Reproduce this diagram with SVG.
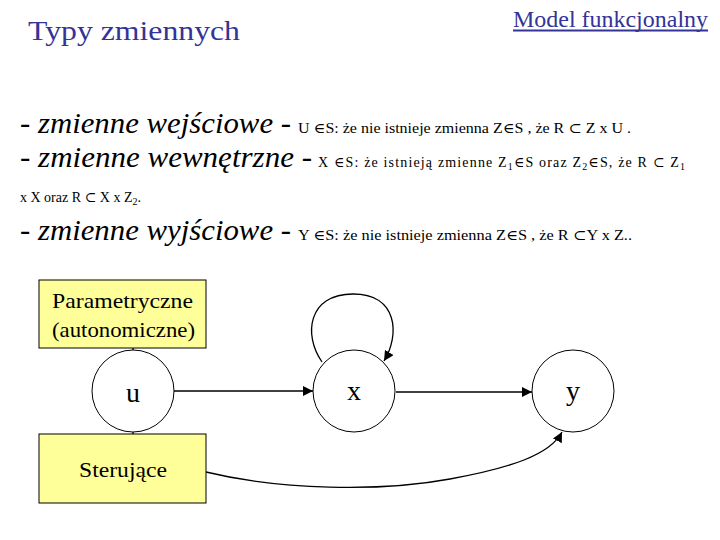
<svg xmlns="http://www.w3.org/2000/svg" width="720" height="540" viewBox="0 0 720 540">
<style>
text{font-family:"Times New Roman","Liberation Serif","Tinos","DejaVu Serif","Noto Serif",serif}
.title{fill:#333399}
.it{font-style:italic;font-size:29px;fill:#000}
.sm{font-size:14px;fill:#000}
.lbl{font-size:22px;fill:#000}
.var{font-size:28px;fill:#000;text-anchor:middle}
.box{fill:#FFFF99;stroke:#000;stroke-width:1}
.node{fill:#fff;stroke:#000;stroke-width:1}
.edge{fill:none;stroke:#000;stroke-width:1.3}
</style>
<defs>
<marker id="arr" viewBox="0 0 10 10" refX="10" refY="5" markerWidth="10" markerHeight="10" markerUnits="userSpaceOnUse" orient="auto">
<path d="M0,0 L10,5 L0,10 z" fill="#000"/>
</marker>
</defs>
<rect width="720" height="540" fill="#fff"/>
<text class="title" x="28" y="40" font-size="28" textLength="212" lengthAdjust="spacingAndGlyphs">Typy zmiennych</text>
<g id="link">
<text class="title" x="513" y="27" font-size="23" textLength="195" lengthAdjust="spacingAndGlyphs">Model funkcjonalny</text>
<rect x="513" y="29.5" width="195" height="2" fill="#333399"/>
</g>
<text class="it" x="20" y="133" textLength="271" lengthAdjust="spacingAndGlyphs">- zmienne wejściowe -</text>
<text class="sm" x="298" y="133" textLength="333" lengthAdjust="spacingAndGlyphs">U ∈S: że nie istnieje zmienna Z∈S , że R ⊂ Z x U .</text>
<text class="it" x="20" y="167" textLength="292" lengthAdjust="spacingAndGlyphs">- zmienne wewnętrzne -</text>
<text class="sm" x="318" y="167" textLength="367" lengthAdjust="spacing">X ∈S: że istnieją zmienne  Z<tspan font-size="10" dy="3">1</tspan><tspan dy="-3">∈S  oraz  Z</tspan><tspan font-size="10" dy="3">2</tspan><tspan dy="-3">∈S, że R ⊂ Z</tspan><tspan font-size="10" dy="3">1</tspan></text>
<text class="sm" x="20" y="202">x X  oraz  R ⊂ X x Z<tspan font-size="10" dy="3">2</tspan><tspan dy="-3">.</tspan></text>
<text class="it" x="20" y="240" textLength="271" lengthAdjust="spacingAndGlyphs">- zmienne wyjściowe -</text>
<text class="sm" x="298" y="240" textLength="334" lengthAdjust="spacingAndGlyphs">Y ∈S: że nie istnieje zmienna Z∈S , że  R ⊂Y x Z..</text>
<g id="connectors">
<line class="edge" x1="174" y1="391" x2="313" y2="391" marker-end="url(#arr)"/>
<line class="edge" x1="396" y1="392" x2="532" y2="392" marker-end="url(#arr)"/>
<path class="edge" d="M322,362 C303,335 308,294 353,294 C398,294 400,335 384,361" marker-end="url(#arr)"/>
<path class="edge" d="M206,472 C280,490 380,492 450,479 C510,468 550,455 562,432" marker-end="url(#arr)"/>
<line class="edge" x1="133" y1="348" x2="133" y2="350"/>
<line class="edge" x1="133" y1="432" x2="133" y2="434"/>
</g>
<g id="param">
<rect class="box" x="39" y="280" width="167" height="68"/>
<text class="lbl" x="52" y="308" textLength="141" lengthAdjust="spacingAndGlyphs">Parametryczne</text>
<text class="lbl" x="52" y="337" textLength="143" lengthAdjust="spacingAndGlyphs">(autonomiczne)</text>
</g>
<g id="u">
<circle class="node" cx="133" cy="391" r="41"/>
<text class="var" x="133" y="402">u</text>
</g>
<g id="ster">
<rect class="box" x="39" y="434" width="167" height="69"/>
<text class="lbl" x="79" y="477" textLength="88" lengthAdjust="spacingAndGlyphs">Sterujące</text>
</g>
<g id="x">
<circle class="node" cx="354" cy="391" r="41"/>
<text class="var" x="354" y="400">x</text>
</g>
<g id="y">
<circle class="node" cx="573" cy="391" r="41"/>
<text class="var" x="573" y="400">y</text>
</g>
</svg>
